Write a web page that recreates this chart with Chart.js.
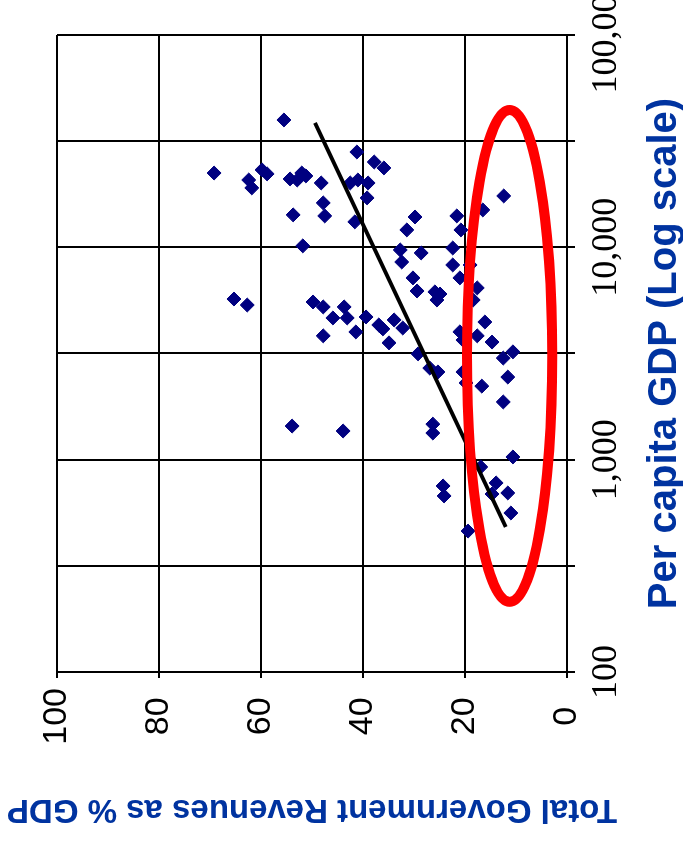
<!DOCTYPE html>
<html>
<head>
<meta charset="utf-8">
<script src="https://cdn.jsdelivr.net/npm/chart.js@4/dist/chart.umd.min.js"></script>
<style>
  html, body { margin: 0; padding: 0; background: #ffffff; overflow: hidden; width: 683px; height: 844px; }
  #wrap { position: absolute; left: 0; top: 0; width: 900px; height: 683px;
          transform-origin: 0 0; transform: translateY(844px) rotate(-90deg); }
  canvas { display: block; }
</style>
</head>
<body>
<div id="wrap"><canvas id="c" width="900" height="683" style="width:900px;height:683px"></canvas></div>
<script>
// ---- data ----
const revenueShare = [
  55.5, 69.2, 62.4, 61.8, 59.8, 58.8, 54.3, 52.9, 52.0, 51.2,
  48.2, 47.8, 47.5, 53.7, 41.2, 37.8, 35.9, 42.5, 41.0, 39.0,
  39.2, 41.6, 29.8, 31.4, 21.6, 20.8, 16.5, 12.4, 51.8, 65.3,
  62.7, 49.8, 47.8, 43.7, 45.9, 43.1, 47.8, 41.4, 32.7, 32.4,
  28.6, 22.4, 22.4, 21.0, 19.0, 30.2, 29.4, 25.9, 24.9, 25.5,
  17.6, 18.4, 39.4, 36.9, 36.1, 33.9, 32.2, 34.9, 21.0, 20.4,
  17.6, 16.1, 14.7, 10.6, 12.5, 29.2, 26.9, 25.3, 20.4, 19.8,
  16.7, 11.6, 12.5, 53.9, 43.9, 26.3, 26.3, 10.6, 16.9, 13.9,
  14.7, 11.6, 24.3, 24.1, 11.0, 19.4
];
const gdpPerCapita = [
  39800, 22390, 20760, 19050, 23170, 22180, 20990, 20760, 22390, 21690,
  20100, 16190, 14060, 14220, 28120, 25230, 23660, 20100, 20760, 20100,
  17100, 13180, 13900, 12080, 14060, 12080, 15000, 17460, 10160, 5710,
  5350, 5530, 5240, 5240, 4650, 4650, 3830, 3995, 9720, 8530,
  9410, 9930, 8260, 7180, 8260, 7180, 6230, 6170, 6030, 5650,
  6440, 5650, 4700, 4310, 4130, 4550, 4170, 3550, 4000, 3660,
  3830, 4450, 3580, 3220, 3010, 3150, 2700, 2590, 2590, 2300,
  2220, 2450, 1870, 1440, 1365, 1470, 1335, 1030, 924, 777,
  689, 697, 752, 675, 561, 461
];
const trendRevenue = [49.4, 12.0];
const trendGdp = [38560, 482];
const ellipseRevenue = [2.9, 19.6];
const ellipseGdp = [214, 44360];
const revenueTicks = [0, 20, 40, 60, 80, 100];
const gdpTickValues = [100, 316.23, 1000, 3162.3, 10000, 31622.8, 100000];
const gdpTickLabels = ['100', '', '1,000', '', '10,000', '', '100,000'];
const xTitle = 'Per capita GDP (Log scale)';
const yTitle = 'Total Government Revenues as % GDP';

const points = gdpPerCapita.map((g, i) => ({ x: g, y: revenueShare[i] }));
const trend = trendGdp.map((g, i) => ({ x: g, y: trendRevenue[i] }));

const ellipsePlugin = {
  id: 'ellipse',
  afterDatasetsDraw(chart) {
    const { ctx } = chart;
    const xs = chart.scales.x, ys = chart.scales.y;
    const x1 = xs.getPixelForValue(ellipseGdp[0]), x2 = xs.getPixelForValue(ellipseGdp[1]);
    const y1 = ys.getPixelForValue(ellipseRevenue[0]), y2 = ys.getPixelForValue(ellipseRevenue[1]);
    ctx.save();
    ctx.beginPath();
    ctx.ellipse((x1 + x2) / 2, (y1 + y2) / 2, Math.abs(x2 - x1) / 2, Math.abs(y2 - y1) / 2, 0, 0, Math.PI * 2);
    ctx.strokeStyle = '#ff0000';
    ctx.lineWidth = 10;
    ctx.stroke();
    ctx.restore();
  }
};

new Chart(document.getElementById('c'), {
  type: 'scatter',
  data: {
    datasets: [
      { data: trend, showLine: true, borderColor: '#000000', borderWidth: 4, pointRadius: 0, fill: false },
      { data: points, pointStyle: 'rectRot', pointRadius: 7, backgroundColor: '#000080', borderColor: '#000080', borderWidth: 1 }
    ]
  },
  plugins: [ellipsePlugin],
  options: {
    responsive: false,
    devicePixelRatio: 1,
    animation: false,
    events: [],
    layout: { padding: { left: 0, right: 91, top: 57, bottom: 0 } },
    plugins: { legend: { display: false }, tooltip: { enabled: false } },
    scales: {
      x: {
        type: 'logarithmic', position: 'bottom', min: 100, max: 100000,
        afterBuildTicks: (s) => { s.ticks = gdpTickValues.map(v => ({ value: v })); },
        afterFit: (s) => { s.height = 116; s.paddingLeft = 0; s.paddingRight = 0; },
        grid: { color: '#000000', lineWidth: 2, tickLength: 8, drawTicks: true },
        border: { display: true, color: '#000000', width: 2 },
        ticks: {
          autoSkip: false, maxRotation: 0, minRotation: 0, padding: 10, color: '#000000',
          font: { family: '"Liberation Serif", "Times New Roman", serif', size: 36 },
          callback: (v, i) => gdpTickLabels[i]
        },
        title: {
          display: true, text: xTitle, color: '#0033a0',
          font: { family: '"Liberation Sans", Arial, sans-serif', size: 40, weight: 'bold' },
          padding: { top: 0, bottom: -6 }
        }
      },
      y: {
        type: 'linear', position: 'left', min: 0, max: 100,
        afterBuildTicks: (s) => { s.ticks = revenueTicks.map(v => ({ value: v })); },
        afterFit: (s) => { s.width = 172; s.paddingTop = 0; s.paddingBottom = 0; },
        grid: { color: '#000000', lineWidth: 2, tickLength: 6, drawTicks: true },
        border: { display: true, color: '#000000', width: 2 },
        ticks: {
          crossAlign: 'center', padding: 10, color: '#000000',
          font: { family: '"Liberation Sans", Arial, sans-serif', size: 34 },
          callback: (v) => String(v)
        },
        title: {
          display: true, text: yTitle, color: '#0033a0',
          font: { family: '"Liberation Sans", Arial, sans-serif', size: 33, weight: 'bold' },
          padding: { top: 15, bottom: 0 }
        }
      }
    }
  }
});
</script>
</body>
</html>
